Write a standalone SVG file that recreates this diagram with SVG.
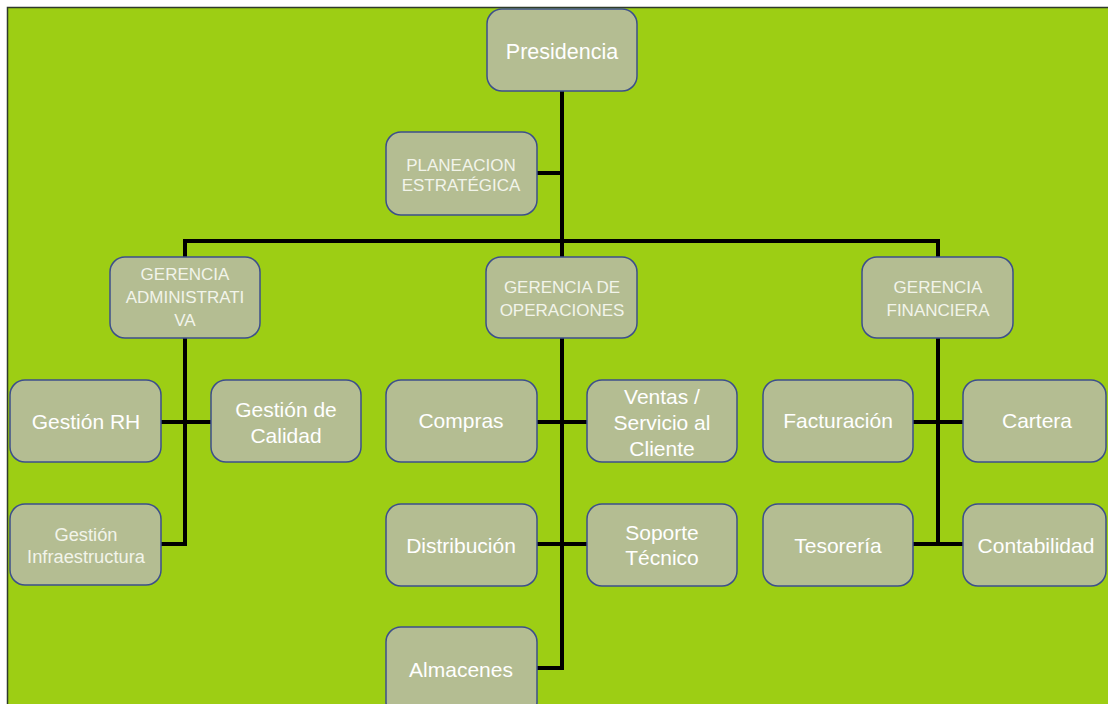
<svg xmlns="http://www.w3.org/2000/svg" width="1108" height="704" viewBox="0 0 1108 704">
  <style>
    .box { fill: #b4bd92; stroke: #3c4f8c; stroke-width: 1.5; }
    .big { font-family: "Liberation Sans", Arial, sans-serif; font-size: 21px; fill: #ffffff; text-anchor: middle; }
    .small { font-family: "Liberation Sans", Arial, sans-serif; font-size: 17px; fill: #f2f4ea; text-anchor: middle; }
    .wire { fill: none; stroke: #000000; stroke-width: 4; stroke-linejoin: miter; }
  </style>

  <!-- page frame -->
  <rect x="0" y="0" width="1108" height="704" fill="#ffffff"/>
  <rect x="8" y="8" width="1100" height="696" fill="#9dce14"/>
  <path d="M7.5 704 V7.5 H1108" fill="none" stroke="#2f3a2a" stroke-width="1.5"/>

  <!-- connectors -->
  <g id="connectors" class="wire">
    <path d="M562 91 V241"/>
    <path d="M537 173 H562"/>
    <path d="M185 257 V241 H938 V257"/>
    <path d="M562 241 V257"/>
    <path d="M185 338 V544 H161"/>
    <path d="M161 422 H211"/>
    <path d="M562 338 V668 H537"/>
    <path d="M537 422 H587"/>
    <path d="M537 544 H587"/>
    <path d="M938 338 V544"/>
    <path d="M913 422 H963"/>
    <path d="M913 544 H963"/>
  </g>

  <g id="presidencia">
    <rect class="box" x="487" y="9" width="150" height="82" rx="15"/>
    <text class="big" x="562" y="59" style="font-size:21.5px">Presidencia</text>
  </g>

  <g id="planeacion">
    <rect class="box" x="386" y="132" width="151" height="83" rx="15"/>
    <text class="small" x="461" y="171">PLANEACION</text>
    <text class="small" x="461" y="191">ESTRATÉGICA</text>
  </g>

  <g id="gerencia-administrativa">
    <rect class="box" x="110" y="257" width="150" height="81" rx="15"/>
    <text class="small" x="185" y="280">GERENCIA</text>
    <text class="small" x="185" y="303">ADMINISTRATI</text>
    <text class="small" x="185" y="326">VA</text>
  </g>

  <g id="gerencia-operaciones">
    <rect class="box" x="486" y="257" width="151" height="81" rx="15"/>
    <text class="small" x="562" y="293">GERENCIA DE</text>
    <text class="small" x="562" y="316">OPERACIONES</text>
  </g>

  <g id="gerencia-financiera">
    <rect class="box" x="862" y="257" width="151" height="81" rx="15"/>
    <text class="small" x="938" y="293">GERENCIA</text>
    <text class="small" x="938" y="316">FINANCIERA</text>
  </g>

  <g id="gestion-rh">
    <rect class="box" x="10" y="380" width="151" height="82" rx="15"/>
    <text class="big" x="86" y="429">Gestión RH</text>
  </g>

  <g id="gestion-calidad">
    <rect class="box" x="211" y="380" width="150" height="82" rx="15"/>
    <text class="big" x="286" y="417">Gestión de</text>
    <text class="big" x="286" y="443">Calidad</text>
  </g>

  <g id="gestion-infraestructura">
    <rect class="box" x="10" y="504" width="151" height="81" rx="15"/>
    <text class="small" x="86" y="541" style="font-size:18.3px">Gestión</text>
    <text class="small" x="86" y="563" style="font-size:18.3px">Infraestructura</text>
  </g>

  <g id="compras">
    <rect class="box" x="386" y="380" width="151" height="82" rx="15"/>
    <text class="big" x="461" y="428">Compras</text>
  </g>

  <g id="ventas">
    <rect class="box" x="587" y="380" width="150" height="82" rx="15"/>
    <text class="big" x="662" y="404">Ventas /</text>
    <text class="big" x="662" y="430">Servicio al</text>
    <text class="big" x="662" y="456">Cliente</text>
  </g>

  <g id="distribucion">
    <rect class="box" x="386" y="504" width="151" height="82" rx="15"/>
    <text class="big" x="461" y="553">Distribución</text>
  </g>

  <g id="soporte">
    <rect class="box" x="587" y="504" width="150" height="82" rx="15"/>
    <text class="big" x="662" y="540">Soporte</text>
    <text class="big" x="662" y="565">Técnico</text>
  </g>

  <g id="almacenes">
    <rect class="box" x="386" y="627" width="151" height="90" rx="15"/>
    <text class="big" x="461" y="677">Almacenes</text>
  </g>

  <g id="facturacion">
    <rect class="box" x="763" y="380" width="150" height="82" rx="15"/>
    <text class="big" x="838" y="428">Facturación</text>
  </g>

  <g id="cartera">
    <rect class="box" x="963" y="380" width="143" height="82" rx="15"/>
    <text class="big" x="1037" y="428">Cartera</text>
  </g>

  <g id="tesoreria">
    <rect class="box" x="763" y="504" width="150" height="82" rx="15"/>
    <text class="big" x="838" y="553">Tesorería</text>
  </g>

  <g id="contabilidad">
    <rect class="box" x="963" y="504" width="143" height="82" rx="15"/>
    <text class="big" x="1036" y="553">Contabilidad</text>
  </g>
</svg>
